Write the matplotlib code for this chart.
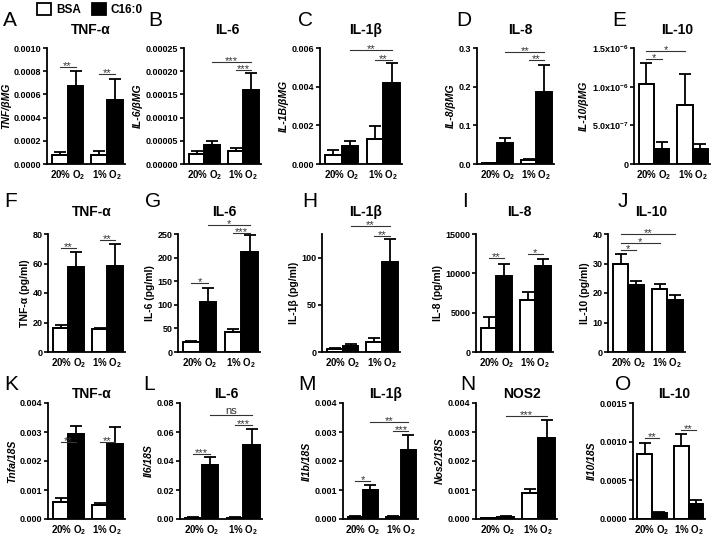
import matplotlib
matplotlib.use('Agg')
import matplotlib.pyplot as plt
from matplotlib.patches import Patch
import numpy as np

plt.rcParams['font.family'] = ['Liberation Sans', 'DejaVu Sans']
plt.rcParams['font.weight'] = 'bold'
plt.rcParams['mathtext.fontset'] = 'custom'
plt.rcParams['mathtext.rm'] = 'Liberation Sans:bold'
plt.rcParams['mathtext.bf'] = 'Liberation Sans:bold'
plt.rcParams['mathtext.it'] = 'Liberation Sans:italic:bold'
plt.rcParams['mathtext.default'] = 'bf'

W, H = 713, 537

# bar order in every panel: BSA 20%, C16:0 20%, BSA 1%, C16:0 1%
group_labels = ['20% O$_2$', '1% O$_2$']
legend_labels = ['BSA', 'C16:0']

# ---- row 1: mRNA / bMG ----
tnf_bmg = [0.00008, 0.00067, 0.00008, 0.00055]
tnf_bmg_err = [0.00002, 0.00013, 0.00003, 0.00018]
il6_bmg = [0.000022, 0.00004, 0.000028, 0.00016]
il6_bmg_err = [0.000007, 0.000009, 0.000006, 0.000036]
il1b_bmg = [0.00045, 0.00095, 0.0013, 0.0042]
il1b_bmg_err = [0.00025, 0.00025, 0.00065, 0.001]
il8_bmg = [0.002, 0.055, 0.01, 0.185]
il8_bmg_err = [0.001, 0.013, 0.003, 0.07]
il10_bmg = [1.04e-6, 0.19e-6, 0.76e-6, 0.19e-6]
il10_bmg_err = [0.26e-6, 0.09e-6, 0.40e-6, 0.07e-6]

# ---- row 2: protein (pg/ml) ----
tnf_pg = [16.5, 57.5, 15.5, 58]
tnf_pg_err = [2, 10, 1, 15.5]
il6_pg = [22, 105, 42, 212]
il6_pg_err = [2, 30, 7, 35]
il1b_pg = [3, 6, 10.5, 95]
il1b_pg_err = [1, 2, 4, 25]
il8_pg = [3100, 9600, 6600, 10900]
il8_pg_err = [1300, 1600, 1000, 900]
il10_pg = [30, 22.7, 21.3, 17.5]
il10_pg_err = [3.3, 1.4, 1.8, 1.9]

# ---- row 3: mouse mRNA / 18S ----
tnfa_18s = [0.0006, 0.00293, 0.00048, 0.00258]
tnfa_18s_err = [0.00012, 0.00028, 0.00007, 0.00058]
il6_18s = [0.001, 0.037, 0.001, 0.051]
il6_18s_err = [0.0003, 0.006, 0.0003, 0.011]
il1b_18s = [0.00008, 0.001, 0.00008, 0.00238]
il1b_18s_err = [0.00002, 0.00018, 0.00002, 0.0005]
nos2_18s = [0.00003, 0.00008, 0.00088, 0.0028]
nos2_18s_err = [0.00001, 0.00001, 0.00015, 0.0006]
il10_18s = [0.00084, 0.00008, 0.00094, 0.0002]
il10_18s_err = [0.00014, 0.00001, 0.00016, 0.00004]

e_ticklabels = ['0', '5.0x10$^{-7}$', '1.0x10$^{-6}$', '1.5x10$^{-6}$']

# significance brackets: (bar a, bar b, height, label)
panels = [
    dict(letter='A', title='TNF-α', ylabel='TNF/βMG', it=True, v=tnf_bmg, e=tnf_bmg_err,
         top=0.001, ticks=np.arange(0, 0.00101, 0.0002), fmt='%.4f',
         sig=[(0, 1, 0.00084, '**'), (2, 3, 0.00078, '**')], box=(47, 125, 48, 164), lx=3),
    dict(letter='B', title='IL-6', ylabel='IL-6/βMG', it=True, v=il6_bmg, e=il6_bmg_err,
         top=0.00025, ticks=np.arange(0, 0.000251, 0.00005), fmt='%.5f',
         sig=[(1, 3, 0.00022, '***'), (2, 3, 0.000202, '***')], box=(184, 261, 48, 164), lx=148),
    dict(letter='C', title='IL-1β', ylabel='IL-1B/βMG', it=True, v=il1b_bmg, e=il1b_bmg_err,
         top=0.006, ticks=np.arange(0, 0.0061, 0.002), fmt='%.3f',
         sig=[(1, 3, 0.0059, '**'), (2, 3, 0.0054, '**')], box=(320, 402, 48, 164), lx=298),
    dict(letter='D', title='IL-8', ylabel='IL-8/βMG', it=True, v=il8_bmg, e=il8_bmg_err,
         top=0.3, ticks=np.arange(0, 0.31, 0.1), fmt='%.1f',
         sig=[(1, 3, 0.29, '**'), (2, 3, 0.268, '**')], box=(477, 554, 48, 164), lx=456),
    dict(letter='E', title='IL-10', ylabel='IL-10/βMG', it=True, v=il10_bmg, e=il10_bmg_err,
         top=1.5e-6, ticks=np.arange(0, 1.51e-6, 0.5e-6), labels=e_ticklabels,
         sig=[(0, 2, 1.46e-6, '*'), (0, 1, 1.36e-6, '*')], box=(634, 710, 48, 164), lx=612),

    dict(letter='F', title='TNF-α', ylabel='TNF-α (pg/ml)', it=False, v=tnf_pg, e=tnf_pg_err,
         top=80, ticks=np.arange(0, 81, 20), fmt='%d',
         sig=[(0, 1, 70.5, '**'), (2, 3, 76, '**')], box=(48, 125, 234, 352), lx=4),
    dict(letter='G', title='IL-6', ylabel='IL-6 (pg/ml)', it=False, v=il6_pg, e=il6_pg_err,
         top=250, ticks=np.arange(0, 251, 50), fmt='%d',
         sig=[(0, 1, 146, '*'), (1, 3, 269, '*'), (2, 3, 252, '***')], box=(178, 260, 234, 352), lx=145),
    dict(letter='H', title='IL-1β', ylabel='IL-1β (pg/ml)', it=False, v=il1b_pg, e=il1b_pg_err,
         top=125, ticks=np.arange(0, 101, 50), fmt='%d',
         sig=[(1, 3, 133, '**'), (2, 3, 123, '**')], box=(322, 400, 234, 352), lx=302),
    dict(letter='I', title='IL-8', ylabel='IL-8 (pg/ml)', it=False, v=il8_pg, e=il8_pg_err,
         top=15000, ticks=np.arange(0, 15001, 5000), fmt='%d',
         sig=[(0, 1, 11950, '**'), (2, 3, 12450, '*')], box=(476, 553, 234, 352), lx=462),
    dict(letter='J', title='IL-10', ylabel='IL-10 (pg/ml)', it=False, v=il10_pg, e=il10_pg_err,
         top=40, ticks=np.arange(0, 41, 10), fmt='%d',
         sig=[(0, 3, 40, '**'), (0, 2, 37, '*'), (0, 1, 34.6, '*')], box=(608, 685, 234, 352), lx=618),

    dict(letter='K', title='TNF-α', ylabel='Tnfa/18S', it=True, v=tnfa_18s, e=tnfa_18s_err,
         top=0.004, ticks=np.arange(0, 0.00401, 0.001), fmt='%.3f',
         sig=[(0, 1, 0.00265, '**'), (2, 3, 0.00265, '**')], box=(48, 125, 403, 519), lx=4),
    dict(letter='L', title='IL-6', ylabel='Il6/18S', it=True, v=il6_18s, e=il6_18s_err,
         top=0.08, ticks=np.arange(0, 0.0801, 0.02), fmt='%.2f',
         sig=[(0, 1, 0.0448, '***'), (1, 3, 0.0716, 'ns'), (2, 3, 0.0648, '***')], box=(180, 262, 403, 519), lx=143),
    dict(letter='M', title='IL-1β', ylabel='Il1b/18S', it=True, v=il1b_18s, e=il1b_18s_err,
         top=0.004, ticks=np.arange(0, 0.00401, 0.001), fmt='%.3f',
         sig=[(0, 1, 0.0013, '*'), (1, 3, 0.00335, '**'), (2, 3, 0.00303, '***')], box=(343, 418, 403, 519), lx=298),
    dict(letter='N', title='NOS2', ylabel='Nos2/18S', it=True, v=nos2_18s, e=nos2_18s_err,
         top=0.004, ticks=np.arange(0, 0.00401, 0.001), fmt='%.3f',
         sig=[(1, 3, 0.00355, '***')], box=(476, 557, 403, 519), lx=460),
    dict(letter='O', title='IL-10', ylabel='Il10/18S', it=True, v=il10_18s, e=il10_18s_err,
         top=0.0015, ticks=np.arange(0, 0.00151, 0.0005), fmt='%.4f',
         sig=[(0, 1, 0.00105, '**'), (2, 3, 0.00115, '**')], box=(633, 705, 403, 519), lx=615),
]

title_dy = [18, 22, 9]  # px between title centre and axes top, per row

fig = plt.figure(figsize=(W / 100, H / 100), dpi=100)

xs = np.repeat(np.arange(2), 2) + np.tile([-0.2, 0.2], 2)
colors = ['white', 'black'] * 2

for k, p in enumerate(panels):
    l, r, t, b = p['box']
    ax = fig.add_axes([l / W, 1 - b / H, (r - l) / W, (b - t) / H])
    ax.bar(xs, p['v'], width=0.4, color=colors, edgecolor='black', linewidth=1.4, zorder=2)
    ax.errorbar(xs, p['v'], yerr=[np.zeros(4), p['e']], fmt='none', ecolor='black',
                elinewidth=1.3, capsize=4, capthick=1.3, zorder=3)
    ax.set_xlim(-0.52, 1.45)
    ax.set_ylim(0, p['top'])
    ax.set_yticks(p['ticks'])
    if 'labels' in p:
        ax.set_yticklabels(p['labels'])
    else:
        ax.set_yticklabels([p['fmt'] % t_ for t_ in p['ticks']])
    ax.set_xticks([0, 1])
    ax.set_xticklabels(group_labels)
    for s in ['top', 'right']:
        ax.spines[s].set_visible(False)
    for s in ['left', 'bottom']:
        ax.spines[s].set_linewidth(1.3)
    ax.tick_params(axis='y', length=3, width=1.2, labelsize=6.5, pad=1)
    ax.tick_params(axis='x', length=0, labelsize=7, pad=3)
    ax.set_ylabel(p['ylabel'], fontsize=7.5, fontweight='bold',
                  fontstyle='italic' if p['it'] else 'normal', labelpad=2)

    for a, bb, y, lab in p['sig']:
        ax.plot([xs[a], xs[bb]], [y, y], color='#333333', lw=0.8, clip_on=False, zorder=4)
        off = 1.0 if lab == 'ns' else -1.5
        ax.annotate(lab, ((xs[a] + xs[bb]) / 2, y), xytext=(0, off), textcoords='offset points',
                    ha='center', va='baseline', fontsize=8, color='#333333',
                    fontweight='normal', annotation_clip=False)

    row = k // 5
    fig.text((l + r) / 2 / W + 5 / W, 1 - (t - title_dy[row]) / H, p['title'],
             ha='center', va='center', fontsize=10, fontweight='bold')
    fig.text(p['lx'] / W, 1 - (t - title_dy[row] - 10) / H, p['letter'],
             ha='left', va='center', fontsize=15, fontweight='normal')

handles = [Patch(facecolor=c, edgecolor='black', linewidth=1.3, label=lab)
           for c, lab in zip(['white', 'black'], legend_labels)]
fig.legend(handles=handles, loc='upper left', bbox_to_anchor=(36 / W, 1 - 2 / H), ncol=2,
           frameon=False, handlelength=1.2, handleheight=1.2, fontsize=8.5,
           columnspacing=0.9, handletextpad=0.4, borderaxespad=0, borderpad=0.1)

fig.savefig('out.png', dpi=100)
